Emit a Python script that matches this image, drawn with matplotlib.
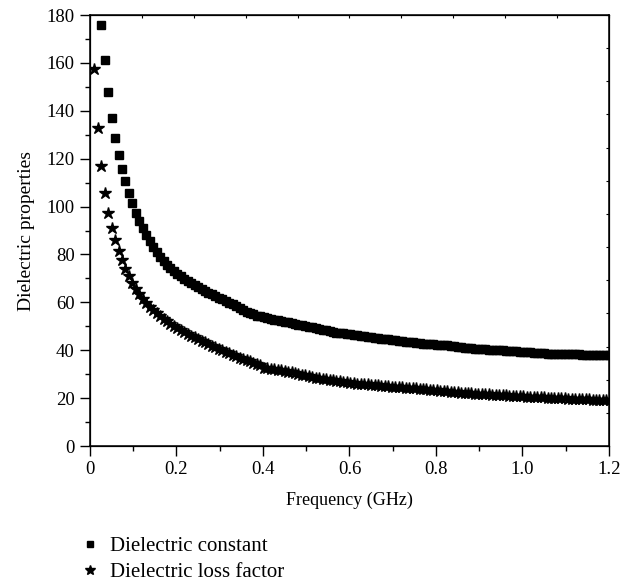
# Dielectric constant and loss factor versus frequency, scatter with square / star markers.

import numpy as np
import matplotlib as mpl
mpl.use("Agg")
import matplotlib.pyplot as plt

# Frequency sweep (GHz): evenly spaced instrument points
f_start = 0.010
f_step = 0.008
n_points = 150
freq = np.round(f_start + f_step * np.arange(n_points), 3)

# Dielectric constant (squares)
diel_const = [
	230, 198, 176, 161, 148, 137, 128.5, 121.5, 115.5, 110.5,
	105.5, 101.5, 97.5, 94, 91, 88, 85.5, 83, 81, 79,
	77.3, 75.8, 74.4, 73.1, 72, 70.9, 69.9, 68.9, 68, 67.1,
	66.3, 65.5, 64.8, 64.1, 63.4, 62.7, 62.0, 61.3, 60.6, 59.9,
	59.2, 58.4, 57.6, 56.8, 56.1, 55.5, 55.0, 54.5, 54.1, 53.7,
	53.4, 53.1, 52.8, 52.5, 52.2, 51.9, 51.6, 51.3, 51.0, 50.7,
	50.4, 50.1, 49.8, 49.5, 49.2, 48.9, 48.6, 48.3, 48.0, 47.7,
	47.4, 47.2, 47.0, 46.8, 46.6, 46.4, 46.2, 46.0, 45.8, 45.6,
	45.4, 45.2, 45.0, 44.8, 44.6, 44.5, 44.3, 44.1, 44.0, 43.8,
	43.6, 43.5, 43.3, 43.2, 43.0, 42.8, 42.7, 42.5, 42.4, 42.3,
	42.2, 42.1, 42.0, 41.8, 41.6, 41.4, 41.2, 41.0, 40.9, 40.8,
	40.7, 40.6, 40.5, 40.4, 40.3, 40.2, 40.1, 40.0, 39.9, 39.8,
	39.7, 39.6, 39.5, 39.4, 39.3, 39.2, 39.1, 39.0, 38.9, 38.8,
	38.7, 38.6, 38.6, 38.5, 38.5, 38.4, 38.4, 38.4, 38.3, 38.3,
	38.3, 38.2, 38.2, 38.2, 38.1, 38.1, 38.1, 38.0, 38.0, 38.0,
]

# Dielectric loss factor (stars)
loss_factor = [
	157.3, 133, 117, 105.5, 97.5, 91, 86, 81.5, 77.5, 74,
	71, 68, 65.6, 63.4, 61.5, 59.7, 58.1, 56.7, 55.4, 54.2,
	53.1, 52.0, 51.0, 50.1, 49.2, 48.4, 47.6, 46.8, 46.1, 45.4,
	44.7, 44.0, 43.3, 42.6, 41.9, 41.2, 40.5, 39.9, 39.3, 38.7,
	38.1, 37.5, 36.9, 36.3, 35.8, 35.3, 34.8, 34.3, 33.9, 32.6,
	32.4, 32.2, 32.0, 31.8, 31.6, 31.3, 31.0, 30.7, 30.4, 30.1,
	29.8, 29.5, 29.2, 28.9, 28.6, 28.4, 28.1, 27.9, 27.6, 27.4,
	27.2, 27.0, 26.8, 26.6, 26.4, 26.3, 26.1, 26.0, 25.8, 25.7,
	25.5, 25.4, 25.3, 25.2, 25.0, 24.9, 24.8, 24.7, 24.6, 24.5,
	24.4, 24.3, 24.2, 24.1, 24.0, 23.8, 23.7, 23.5, 23.4, 23.2,
	23.1, 23.0, 22.8, 22.7, 22.6, 22.4, 22.3, 22.2, 22.1, 22.0,
	21.9, 21.8, 21.7, 21.7, 21.6, 21.5, 21.4, 21.3, 21.2, 21.1,
	21.0, 20.9, 20.9, 20.8, 20.7, 20.6, 20.6, 20.5, 20.4, 20.4,
	20.3, 20.2, 20.2, 20.1, 20.0, 20.0, 19.9, 19.8, 19.8, 19.7,
	19.7, 19.6, 19.5, 19.5, 19.4, 19.4, 19.3, 19.2, 19.2, 19.1,
]

x_ticks = [0, 0.2, 0.4, 0.6, 0.8, 1.0, 1.2]
x_tick_labels = ["0", "0.2", "0.4", "0.6", "0.8", "1.0", "1.2"]
y_ticks = [0, 20, 40, 60, 80, 100, 120, 140, 160, 180]

def main():
	plt.rcParams['font.family'] = ['Liberation Serif', 'DejaVu Serif']
	plt.rcParams['font.size'] = 13.5

	fig = plt.figure(figsize=(6.22, 5.86), dpi=100)
	ax = fig.add_axes([0.1447, 0.2389, 0.8343, 0.7355])

	ax.plot(freq, diel_const, linestyle='none', marker='s', markersize=5.5,
		color='black', label='Dielectric constant')
	ax.plot(freq, loss_factor, linestyle='none', marker='*', markersize=9,
		color='black', label='Dielectric loss factor')

	ax.set_xlim(0, 1.2)
	ax.set_ylim(0, 180)
	ax.set_xticks(x_ticks)
	ax.set_xticklabels(x_tick_labels)
	ax.set_yticks(y_ticks)
	ax.set_xticks(np.arange(0.1, 1.2, 0.2), minor=True)
	ax.set_yticks(np.arange(10, 180, 20), minor=True)
	ax.tick_params(which='major', direction='out', length=7, width=1, pad=4)
	ax.tick_params(which='minor', direction='out', length=3.5, width=1)
	for s in ax.spines.values():
		s.set_linewidth(1.1)

	# small inward ticks on the top and right frame
	top = ax.twiny()
	top.set_xlim(0, 1)
	top.set_xticks(np.linspace(0, 1, 11))
	top.tick_params(direction='in', length=2.5, width=0.8, labeltop=False)
	right = ax.twinx()
	right.set_ylim(0, 1)
	right.set_yticks(np.linspace(0, 1, 14))
	right.tick_params(direction='in', length=2.5, width=0.8, labelright=False)

	ax.set_xlabel('Frequency (GHz)', fontsize=13, labelpad=10)
	ax.set_ylabel('Dielectric properties', fontsize=14, labelpad=8)

	handles, labels = ax.get_legend_handles_labels()
	fig.legend(handles, labels, loc='upper left', bbox_to_anchor=(0.114, 0.098),
		frameon=False, fontsize=15, handlelength=1.0, handletextpad=0.5,
		labelspacing=0.3, borderaxespad=0, markerscale=0.85)

	fig.savefig('out.png', dpi=100)

if __name__ == "__main__":
	main()
